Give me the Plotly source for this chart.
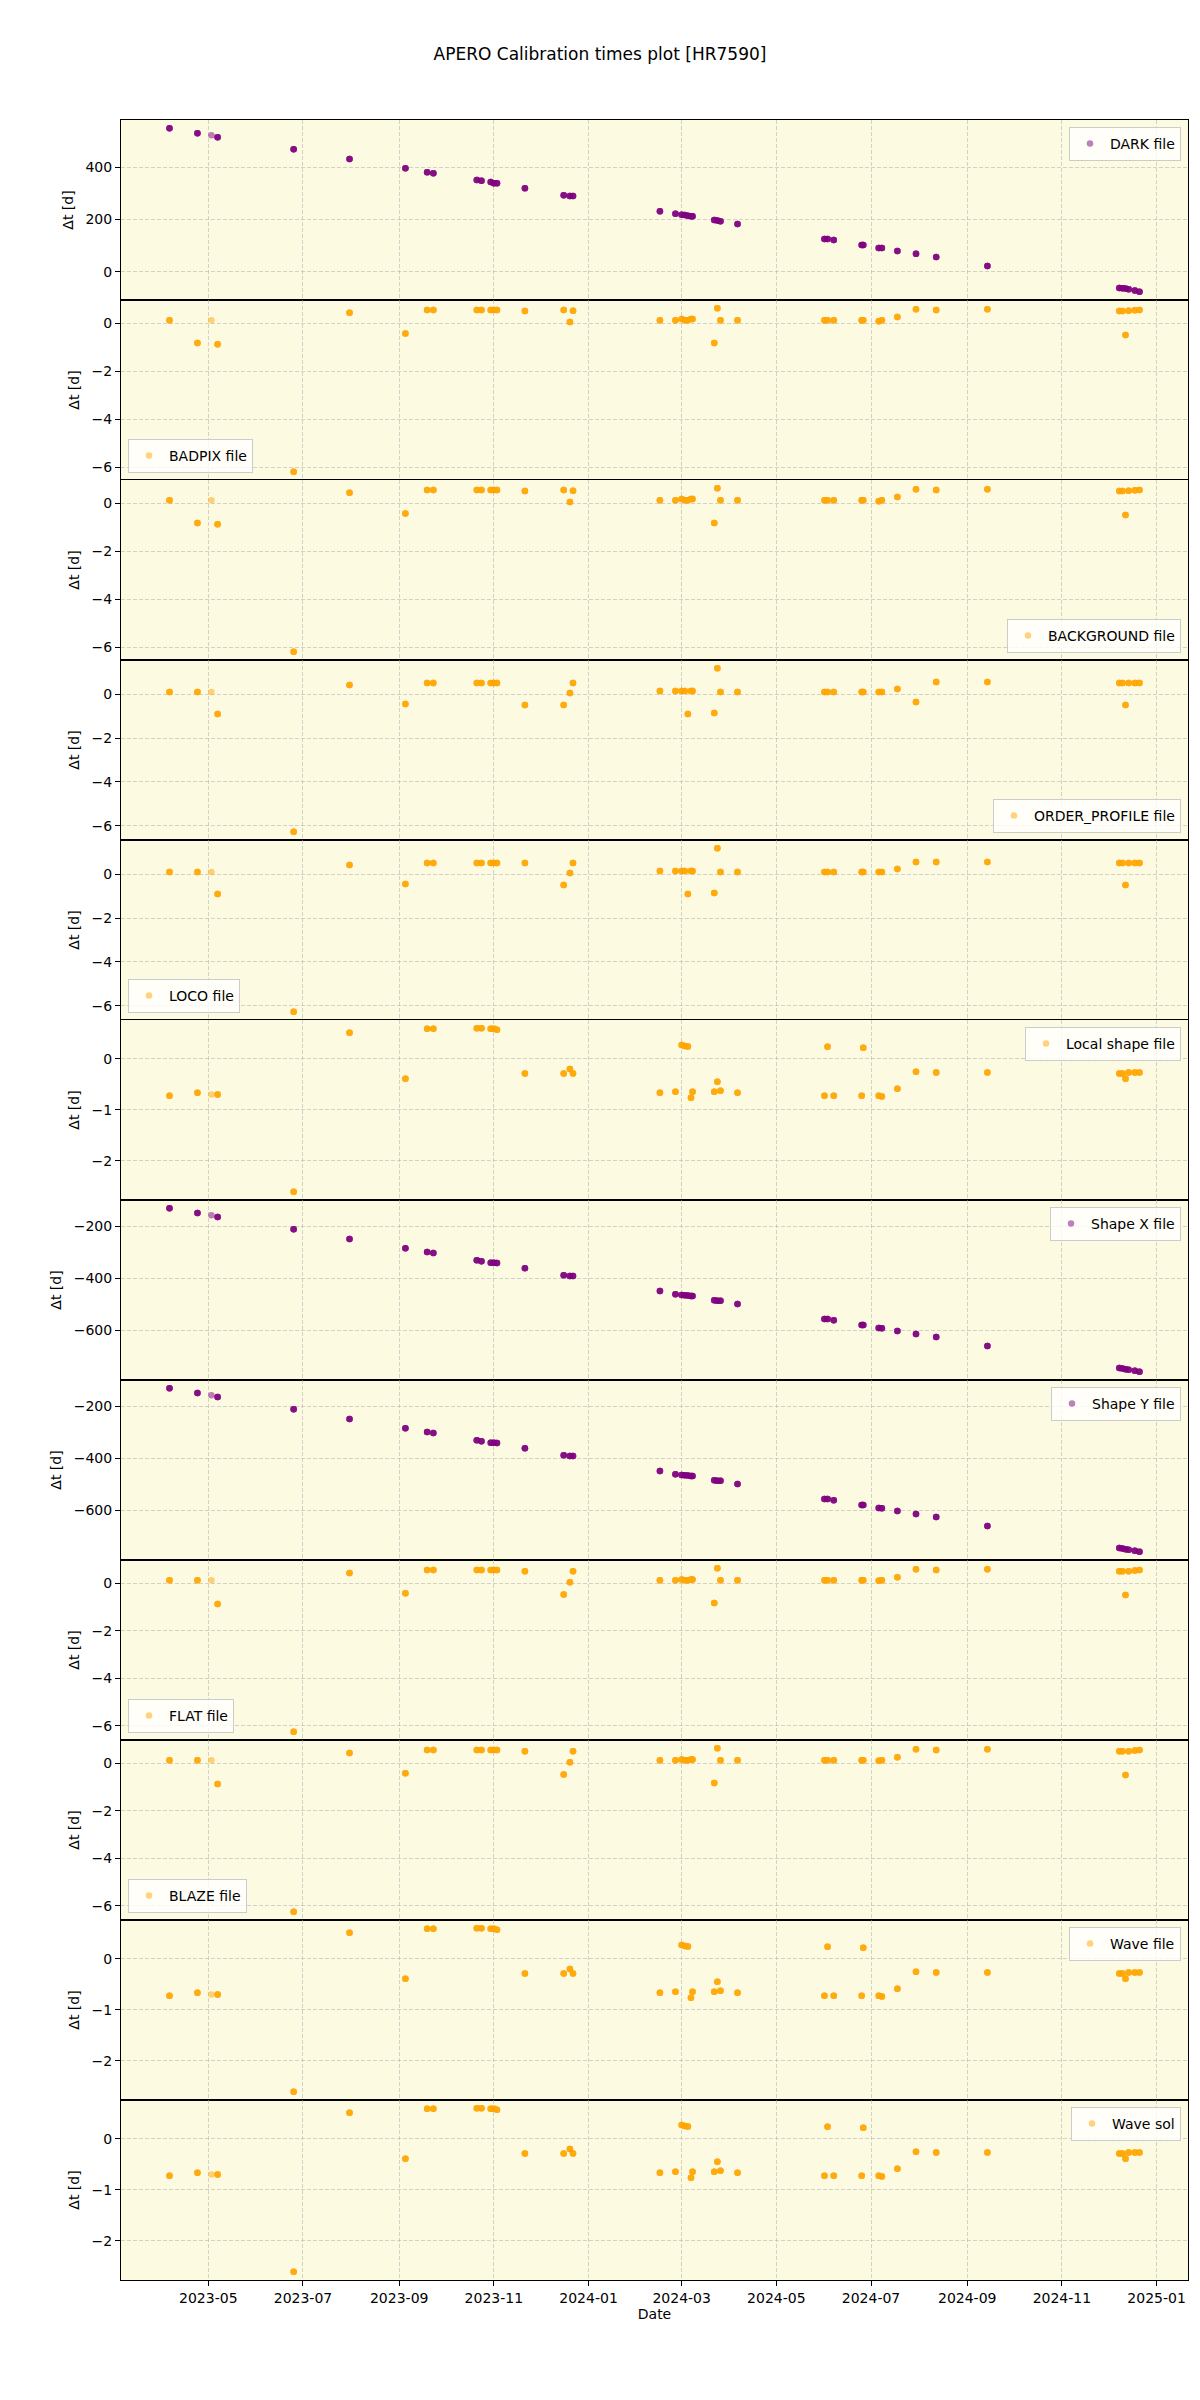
import plotly.graph_objects as go
from plotly.subplots import make_subplots
import pandas as pd

# ---------------- data ----------------
dates = [
    "2023-04-06", "2023-04-24", "2023-05-03", "2023-05-07", "2023-06-25", "2023-07-31",
    "2023-09-05", "2023-09-19", "2023-09-23", "2023-10-21", "2023-10-24", "2023-10-30",
    "2023-11-01", "2023-11-03", "2023-11-21", "2023-12-16", "2023-12-20", "2023-12-22",
    "2024-02-16", "2024-02-26", "2024-03-01", "2024-03-03", "2024-03-05", "2024-03-07",
    "2024-03-08", "2024-03-22", "2024-03-24", "2024-03-26", "2024-04-06", "2024-06-01",
    "2024-06-03", "2024-06-07", "2024-06-25", "2024-06-26", "2024-07-06", "2024-07-08",
    "2024-07-18", "2024-07-30", "2024-08-12", "2024-09-14", "2024-12-08", "2024-12-10",
    "2024-12-12", "2024-12-14", "2024-12-18", "2024-12-21",
]

# estimated number of overlapping observations per date (markers drawn with alpha=0.5 stack)
n_obs = [4, 4, 1, 4, 4, 4, 4, 4, 4, 4, 4, 4, 4, 4, 4, 4, 4, 4, 4, 4, 4, 4, 4, 4,
         4, 4, 4, 4, 4, 4, 4, 4, 4, 4, 4, 4, 4, 4, 4, 4, 4, 4, 4, 4, 4, 4]

dark = [549, 530, 522, 514, 469, 431, 396, 381, 377, 351, 348, 343, 339, 339, 320,
        293, 290, 290, 232, 222, 218, 217, 215, 213, 213, 198, 196, 194, 183, 126,
        126, 122, 103, 103, 91, 91, 80, 69, 57, 23, -61, -62, -63, -66, -71, -76]

badpix = [0.12, -0.83, 0.12, -0.88, -6.2, 0.43, -0.43, 0.54, 0.54, 0.54, 0.54, 0.54,
          0.54, 0.54, 0.5, 0.54, 0.04, 0.51, 0.12, 0.12, 0.17, 0.12, 0.12, 0.17, 0.17,
          -0.83, 0.62, 0.12, 0.12, 0.12, 0.12, 0.12, 0.12, 0.12, 0.08, 0.12, 0.25,
          0.58, 0.54, 0.58, 0.5, 0.5, -0.5, 0.51, 0.53, 0.54]

background = [0.12, -0.83, 0.12, -0.88, -6.2, 0.43, -0.43, 0.54, 0.54, 0.54, 0.54, 0.54,
              0.54, 0.54, 0.5, 0.54, 0.04, 0.51, 0.12, 0.12, 0.17, 0.12, 0.12, 0.17, 0.17,
              -0.83, 0.62, 0.12, 0.12, 0.12, 0.12, 0.12, 0.12, 0.12, 0.08, 0.12, 0.25,
              0.58, 0.54, 0.58, 0.5, 0.5, -0.5, 0.51, 0.53, 0.54]

order_profile = [0.09, 0.09, 0.09, -0.91, -6.27, 0.41, -0.45, 0.5, 0.5, 0.5, 0.5, 0.5,
                 0.5, 0.5, -0.5, -0.5, 0.05, 0.5, 0.14, 0.14, 0.14, 0.14, -0.91, 0.14,
                 0.14, -0.86, 1.18, 0.09, 0.09, 0.09, 0.09, 0.09, 0.09, 0.09, 0.09, 0.09,
                 0.23, -0.36, 0.55, 0.55, 0.5, 0.5, -0.5, 0.5, 0.5, 0.5]

loco = [0.09, 0.09, 0.09, -0.91, -6.27, 0.41, -0.45, 0.5, 0.5, 0.5, 0.5, 0.5,
        0.5, 0.5, 0.5, -0.5, 0.05, 0.5, 0.14, 0.14, 0.14, 0.14, -0.91, 0.14,
        0.14, -0.86, 1.18, 0.09, 0.09, 0.09, 0.09, 0.09, 0.09, 0.09, 0.09, 0.09,
        0.23, 0.55, 0.55, 0.55, 0.5, 0.5, -0.5, 0.5, 0.5, 0.5]

local_shape = [-0.725, -0.667, -0.7, -0.7, -2.61, 0.51, -0.39, 0.59, 0.59, 0.6, 0.6, 0.59,
               0.59, 0.57, -0.29, -0.29, -0.2, -0.29, -0.667, -0.647, 0.27, 0.25, 0.24,
               -0.765, -0.647, -0.647, -0.45, -0.627, -0.667, -0.725, 0.235, -0.725, -0.725,
               0.216, -0.725, -0.74, -0.59, -0.255, -0.27, -0.27, -0.29, -0.29, -0.39,
               -0.27, -0.27, -0.27]

shape_x = [-131, -150, -158, -165, -212, -250, -285, -300, -304, -331, -335, -341, -341,
           -342, -362, -389, -392, -392, -450, -462, -465, -466, -467, -469, -469, -485,
           -487, -487, -500, -558, -558, -562, -581, -581, -592, -593, -604, -615, -627,
           -662, -746, -748, -751, -753, -757, -761]

shape_y = [-131, -150, -158, -165, -212, -250, -285, -300, -304, -331, -335, -341, -341,
           -342, -362, -389, -392, -392, -450, -462, -465, -466, -467, -469, -469, -485,
           -487, -487, -500, -558, -558, -562, -581, -581, -592, -593, -604, -615, -627,
           -662, -746, -748, -751, -753, -757, -761]

flat = [0.12, 0.12, 0.12, -0.88, -6.26, 0.43, -0.43, 0.55, 0.55, 0.55, 0.55, 0.55,
        0.55, 0.55, 0.5, -0.48, 0.04, 0.5, 0.12, 0.12, 0.15, 0.12, 0.12, 0.15, 0.15,
        -0.84, 0.63, 0.12, 0.12, 0.12, 0.12, 0.12, 0.12, 0.12, 0.1, 0.12, 0.25,
        0.59, 0.55, 0.59, 0.5, 0.5, -0.5, 0.5, 0.53, 0.55]

blaze = [0.12, 0.12, 0.12, -0.88, -6.26, 0.43, -0.43, 0.55, 0.55, 0.55, 0.55, 0.55,
         0.55, 0.55, 0.5, -0.48, 0.04, 0.5, 0.12, 0.12, 0.15, 0.12, 0.12, 0.15, 0.15,
         -0.84, 0.63, 0.12, 0.12, 0.12, 0.12, 0.12, 0.12, 0.12, 0.1, 0.12, 0.25,
         0.59, 0.55, 0.59, 0.5, 0.5, -0.5, 0.5, 0.53, 0.55]

wave_file = [-0.725, -0.667, -0.7, -0.7, -2.61, 0.51, -0.39, 0.59, 0.59, 0.6, 0.6, 0.59,
             0.59, 0.57, -0.29, -0.29, -0.2, -0.29, -0.667, -0.647, 0.27, 0.25, 0.24,
             -0.765, -0.647, -0.647, -0.45, -0.627, -0.667, -0.725, 0.235, -0.725, -0.725,
             0.216, -0.725, -0.74, -0.59, -0.255, -0.27, -0.27, -0.29, -0.29, -0.39,
             -0.27, -0.27, -0.27]

wave_sol = [-0.725, -0.667, -0.7, -0.7, -2.61, 0.51, -0.39, 0.59, 0.59, 0.6, 0.6, 0.59,
            0.59, 0.57, -0.29, -0.29, -0.2, -0.29, -0.667, -0.647, 0.27, 0.25, 0.24,
            -0.765, -0.647, -0.647, -0.45, -0.627, -0.667, -0.725, 0.235, -0.725, -0.725,
            0.216, -0.725, -0.74, -0.59, -0.255, -0.27, -0.27, -0.29, -0.29, -0.39,
            -0.27, -0.27, -0.27]

labels = ["DARK file", "BADPIX file", "BACKGROUND file", "ORDER_PROFILE file", "LOCO file",
          "Local shape file", "Shape X file", "Shape Y file", "FLAT file", "BLAZE file",
          "Wave file", "Wave sol"]
series = [dark, badpix, background, order_profile, loco, local_shape, shape_x, shape_y,
          flat, blaze, wave_file, wave_sol]
y_dticks = [200, 2, 2, 2, 2, 1, 200, 200, 2, 2, 1, 1]
legend_locs = ["upper right", "lower left", "lower right", "lower right", "lower left",
               "upper right", "upper right", "upper right", "lower left", "lower left",
               "upper right", "upper right"]

# ---------------- style ----------------
PURPLE = "#800080"
ORANGE = "#FFA500"
colors = [PURPLE, ORANGE, ORANGE, ORANGE, ORANGE, ORANGE, PURPLE, PURPLE,
          ORANGE, ORANGE, ORANGE, ORANGE]
FONT = "DejaVu Sans"
BG = "#FCFAE1"
GRID = "rgba(176,176,176,0.55)"

N = len(series)
W, H = 1200, 2400
ML, MR, MT, MB = 121, 12, 120, 120
PW = W - ML - MR
PH = H - MT - MB

fig = make_subplots(rows=N, cols=1, shared_xaxes=True, vertical_spacing=0)

dts = pd.to_datetime(dates)

for i, (lab, vals, col) in enumerate(zip(labels, series, colors)):
    r = i + 1
    lname = "legend" if r == 1 else f"legend{r}"
    # each observation drawn once with alpha 0.5, so repeated nights stack up
    xs, ys = [], []
    for d, v, n in zip(dts, vals, n_obs):
        xs.extend([d] * n)
        ys.extend([v] * n)
    fig.add_trace(
        go.Scatter(
            x=xs, y=ys, mode="markers", name=lab,
            marker=dict(color=col, size=6.5, opacity=0.5, line=dict(width=0)),
            legend=lname, showlegend=True,
        ),
        row=r, col=1,
    )
    lo, hi = min(vals), max(vals)
    m = 0.05 * (hi - lo)
    fig.update_yaxes(
        range=[lo - m, hi + m], dtick=y_dticks[i], tick0=0,
        title=dict(text="Δt [d]", font=dict(size=14, family=FONT, color="black"), standoff=8),
        row=r, col=1,
    )
    top = 1 - i / N
    bot = 1 - (i + 1) / N
    padx = 7 / PW
    pady = 7 / PH
    loc = legend_locs[i]
    if loc == "upper right":
        lx, ly, xa, ya = 1 - padx, top - pady, "right", "top"
    elif loc == "lower right":
        lx, ly, xa, ya = 1 - padx, bot + pady, "right", "bottom"
    else:
        lx, ly, xa, ya = padx, bot + pady, "left", "bottom"
    fig.update_layout(**{lname: dict(
        x=lx, y=ly, xanchor=xa, yanchor=ya, xref="paper", yref="paper",
        bgcolor="rgba(255,255,255,0.8)", bordercolor="#cccccc", borderwidth=1,
        font=dict(size=14, family=FONT, color="black"),
        tracegroupgap=0,
    )})

xmin, xmax = dts.min(), dts.max()
xm = (xmax - xmin) * 0.05

fig.update_xaxes(
    range=[xmin - xm, xmax + xm], type="date", dtick="M2", tick0="2023-01-01",
    tickformat="%Y-%m", showgrid=True, gridcolor=GRID, griddash="4px,2px", gridwidth=1,
    showline=True, mirror=True, linecolor="black", linewidth=1,
    ticks="", showticklabels=False, zeroline=False,
)
fig.update_xaxes(
    ticks="outside", ticklen=5, tickcolor="black", tickwidth=1, showticklabels=True,
    tickfont=dict(size=14, family=FONT, color="black"),
    title=dict(text="Date", font=dict(size=14, family=FONT, color="black"), standoff=4),
    row=N, col=1,
)
fig.update_yaxes(
    showgrid=True, gridcolor=GRID, griddash="4px,2px", gridwidth=1,
    showline=True, mirror=True, linecolor="black", linewidth=1,
    ticks="outside", ticklen=5, tickcolor="black", tickwidth=1, zeroline=False,
    tickfont=dict(size=14, family=FONT, color="black"),
)

fig.update_layout(
    width=W, height=H,
    margin=dict(l=ML, r=MR, t=MT, b=MB),
    plot_bgcolor=BG, paper_bgcolor="white",
    font=dict(family=FONT, size=14, color="black"),
    title=dict(text="APERO Calibration times plot [HR7590]", x=0.5, xref="container",
               y=1 - 54 / H, yref="container", xanchor="center", yanchor="middle",
               font=dict(size=17, family=FONT, color="black")),
    showlegend=True,
)

fig.write_html("out.html", config={"displayModeBar": False},
               post_script="document.body.style.margin='0px';")
